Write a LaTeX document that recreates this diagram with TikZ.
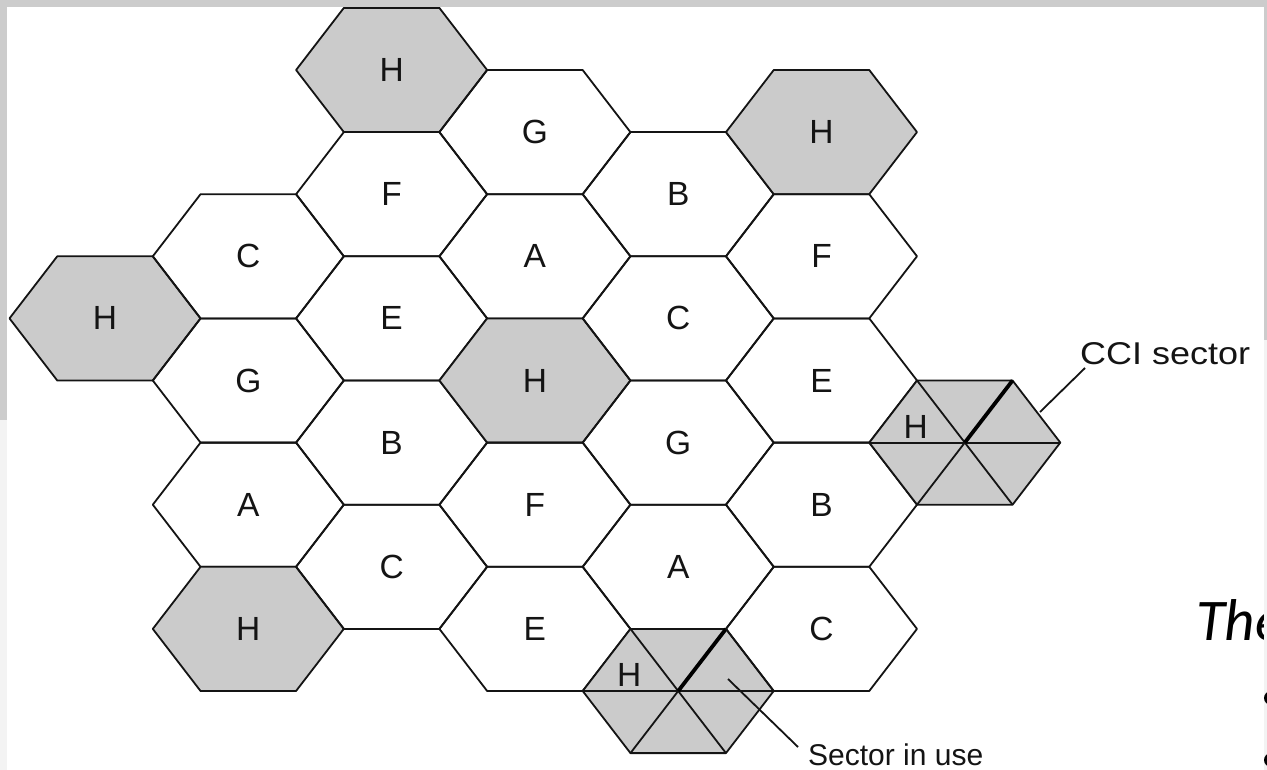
\documentclass[tikz,border=0pt]{standalone}
\usepackage{fontspec}
\setmainfont{Liberation Sans}
\newfontfamily\slidefont{Carlito}
\definecolor{hexgray}{RGB}{203,203,203}
\definecolor{framegray}{RGB}{204,204,204}
\definecolor{framelight}{RGB}{243,243,243}
\definecolor{ink}{RGB}{20,20,20}
\tikzset{
  hexedge/.style={draw=ink, line width=1.8pt, line join=round},
  celllabel/.style={font=\fontsize{33.5}{33.5}\selectfont, inner sep=0pt, text=ink},
  sectorline/.style={draw=ink, line width=1.8pt},
  usedsector/.style={draw=black, line width=3.8pt},
  leader/.style={draw=ink, line width=1.8pt},
  calltext/.style={font=\fontsize{30}{30}\selectfont, inner sep=0pt, anchor=base west, text=ink},
  bandgray/.style={fill=framegray, draw=none},
  bandlight/.style={fill=framelight, draw=none},
}
% name, column, row, label, extra style
\newcommand\hexcell[5]{%
  \begin{scope}[shift={({105+143.3*#2},{70+62.1*#3})}]
    \draw[hexedge,#5] (-95.5,0) -- (-47.75,-62.1) -- (47.75,-62.1) -- (95.5,0)
      -- (47.75,62.1) -- (-47.75,62.1) -- cycle;
    \node[celllabel] (#1) at (0,0) {#4};
  \end{scope}}
% name, column, row
\newcommand\sectorcell[3]{%
  \begin{scope}[shift={({105+143.3*#2},{70+62.1*#3})}]
    \draw[hexedge,fill=hexgray] (-95.5,0) -- (-47.75,-62.1) -- (47.75,-62.1) -- (95.5,0)
      -- (47.75,62.1) -- (-47.75,62.1) -- cycle;
    \draw[sectorline] (-95.5,0) -- (95.5,0);
    \draw[sectorline] (-47.75,-62.1) -- (47.75,62.1);
    \draw[sectorline] (47.75,-62.1) -- (-47.75,62.1);
    \draw[usedsector] (0,0) -- (47.75,-62.1);
    \coordinate (#1c) at (0,0);
    \node[celllabel] (#1) at (-49,-16) {H};
  \end{scope}}

\begin{document}
\begin{tikzpicture}[x=1pt,y=-1pt]
\useasboundingbox (0,0) rectangle (1267,770);
\fill[white] (0,0) rectangle (1267,770);

% column 0
\hexcell{h1}{0}{4}{H}{fill=hexgray}
% column 1
\hexcell{c1}{1}{3}{C}{}
\hexcell{g1}{1}{5}{G}{}
\hexcell{a1}{1}{7}{A}{}
\hexcell{h2}{1}{9}{H}{fill=hexgray}
% column 2
\hexcell{h3}{2}{0}{H}{fill=hexgray}
\hexcell{f2}{2}{2}{F}{}
\hexcell{e2}{2}{4}{E}{}
\hexcell{b2}{2}{6}{B}{}
\hexcell{c2}{2}{8}{C}{}
% column 3
\hexcell{g3}{3}{1}{G}{}
\hexcell{a3}{3}{3}{A}{}
\hexcell{h4}{3}{5}{H}{fill=hexgray}
\hexcell{f3}{3}{7}{F}{}
\hexcell{e3}{3}{9}{E}{}
% column 4
\hexcell{b4}{4}{2}{B}{}
\hexcell{c4}{4}{4}{C}{}
\hexcell{g4}{4}{6}{G}{}
\hexcell{a4}{4}{8}{A}{}
\sectorcell{hs}{4}{10}
% column 5
\hexcell{h5}{5}{1}{H}{fill=hexgray}
\hexcell{f5}{5}{3}{F}{}
\hexcell{e5}{5}{5}{E}{}
\hexcell{b5}{5}{7}{B}{}
\hexcell{c5}{5}{9}{C}{}
% column 6
\sectorcell{hcci}{6}{6}

% callouts
\node[calltext] (ccitext) at (1080,364) {\scalebox{1.2}[1.05]{CCI sector}};
\coordinate (ccitip) at (1040,412);
\coordinate (ccijoin) at (1085,368);
\draw[leader] (ccitip) -- (ccijoin);

\node[calltext] (usetext) at (808,765) {Sector in use};
\coordinate (usetip) at (728,679);
\coordinate (usejoin) at (798,747);
\draw[leader] (usetip) -- (usejoin);

% slide text cut off at the right edge
\node[font=\slidefont\itshape\fontsize{59}{59}\selectfont, anchor=base west, inner sep=0pt] (thetext) at (1196,640) {The};

% frame bands
\path[bandgray] (0,0) rectangle (1267,7);
\path[bandgray] (0,7) rectangle (7,420);
\path[bandlight] (0,420) rectangle (7,770);
\path[bandgray] (1264,7) rectangle (1267,340);
\path[bandlight] (1264,340) rectangle (1267,770);

% clipped bullets
\fill[black] (1271,698) circle (7);
\fill[black] (1271,760) circle (7);
\end{tikzpicture}
\end{document}
